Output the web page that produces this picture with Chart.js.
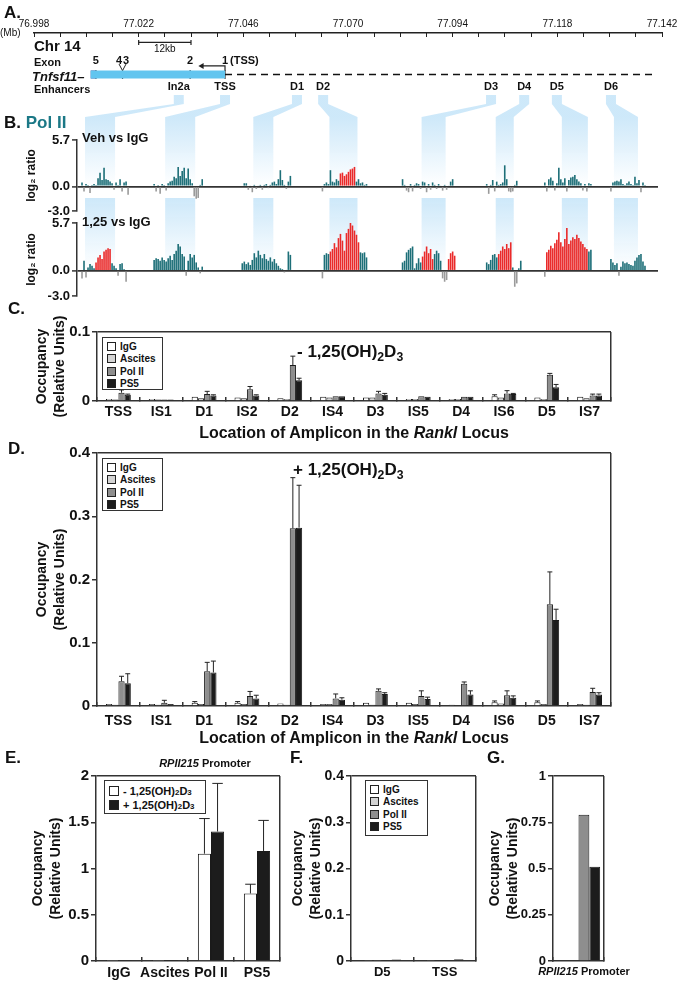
<!DOCTYPE html>
<html>
<head>
<meta charset="utf-8">
<script src="https://cdn.jsdelivr.net/npm/chart.js@4.4.1/dist/chart.umd.min.js"></script>
<style>
body { margin: 0; background: #fff; }
#page { position: relative; width: 685px; height: 986px; overflow: hidden; font-family: 'Liberation Sans', Arial, sans-serif; }
canvas { position: absolute; }
.t { position: absolute; font-weight: bold; color: #111; white-space: nowrap; line-height: 1; }
.box { position: absolute; border: 1.5px solid #333; background: #fff; box-sizing: border-box; font-weight: bold; font-size: 10px; color: #111; padding: 2px 0 0 4px; }
.box div { height: 12.5px; display: flex; align-items: center; white-space: nowrap; }
.sw { display: inline-block; width: 9px; height: 9px; border: 1px solid #222; margin-right: 4px; box-sizing: border-box; }
sub { font-size: 72%; position: relative; top: 0.3em; vertical-align: baseline; line-height: 0; }
</style>
</head>
<body>
<div id="page">
  <canvas id="locus" width="685" height="130" style="left:0;top:0"></canvas>
  <canvas id="vehTrack" width="685" height="130" style="left:0;top:92px"></canvas>
  <canvas id="vitTrack" width="685" height="110" style="left:0;top:196px"></canvas>
  <canvas id="occC" width="685" height="125" style="left:0;top:300px"></canvas>
  <canvas id="occD" width="685" height="290" style="left:0;top:440px"></canvas>
  <canvas id="occE" width="290" height="241" style="left:0;top:745px"></canvas>
  <canvas id="occF" width="200" height="241" style="left:285px;top:745px"></canvas>
  <canvas id="occG" width="200" height="241" style="left:485px;top:745px"></canvas>

  <div class="t" style="left:4px;top:4px;font-size:17px">A.</div>
  <div class="t" style="left:0;top:28px;font-size:10px;font-weight:normal">(Mb)</div>
  <div class="t" style="left:34px;top:38px;font-size:15px">Chr 14</div>
  <div class="t" style="left:34px;top:57px;font-size:11px">Exon</div>
  <div class="t" style="left:32px;top:70px;font-size:13px;font-style:italic">Tnfsf11–</div>
  <div class="t" style="left:34px;top:84px;font-size:11px">Enhancers</div>

  <div class="t" style="left:4px;top:114px;font-size:17px">B. <span style="color:#1b7886">Pol II</span></div>
  <div class="t" style="left:82px;top:131px;font-size:13px">Veh vs IgG</div>
  <div class="t" style="left:82px;top:215px;font-size:13px">1,25 vs IgG</div>

  <div class="t" style="left:8px;top:300px;font-size:17px">C.</div>
  <div class="t" style="left:297px;top:343px;font-size:17px">- 1,25(OH)<sub>2</sub>D<sub>3</sub></div>
  <div class="box" style="left:102px;top:337px;width:61px;height:53px">
    <div><span class="sw" style="background:#fff"></span>IgG</div>
    <div><span class="sw" style="background:#d4d4d4"></span>Ascites</div>
    <div><span class="sw" style="background:#8e8e8e"></span>Pol II</div>
    <div><span class="sw" style="background:#1c1c1c"></span>PS5</div>
  </div>
  <div class="t" style="left:97px;width:514px;text-align:center;top:425px;font-size:16px">Location of Amplicon in the <i>Rankl</i> Locus</div>

  <div class="t" style="left:8px;top:440px;font-size:17px">D.</div>
  <div class="t" style="left:293px;top:461px;font-size:17px">+ 1,25(OH)<sub>2</sub>D<sub>3</sub></div>
  <div class="box" style="left:102px;top:458px;width:61px;height:53px">
    <div><span class="sw" style="background:#fff"></span>IgG</div>
    <div><span class="sw" style="background:#d4d4d4"></span>Ascites</div>
    <div><span class="sw" style="background:#8e8e8e"></span>Pol II</div>
    <div><span class="sw" style="background:#1c1c1c"></span>PS5</div>
  </div>
  <div class="t" style="left:97px;width:514px;text-align:center;top:730px;font-size:16px">Location of Amplicon in the <i>Rankl</i> Locus</div>

  <div class="t" style="left:5px;top:749px;font-size:17px">E.</div>
  <div class="t" style="left:290px;top:749px;font-size:17px">F.</div>
  <div class="t" style="left:487px;top:749px;font-size:17px">G.</div>
  <div class="t" style="left:120px;width:170px;text-align:center;top:758px;font-size:11px"><i>RPII215</i> Promoter</div>
  <div class="box" style="left:104px;top:780px;width:102px;height:34px;font-size:11px;padding-top:3px">
    <div style="height:14px"><span class="sw" style="background:#fff;width:10px;height:10px"></span>- 1,25(OH)<sub>2</sub>D<sub>3</sub></div>
    <div style="height:14px"><span class="sw" style="background:#1c1c1c;width:10px;height:10px"></span>+ 1,25(OH)<sub>2</sub>D<sub>3</sub></div>
  </div>
  <div class="box" style="left:365px;top:780px;width:63px;height:56px">
    <div><span class="sw" style="background:#fff"></span>IgG</div>
    <div><span class="sw" style="background:#d4d4d4"></span>Ascites</div>
    <div><span class="sw" style="background:#8e8e8e"></span>Pol II</div>
    <div><span class="sw" style="background:#1c1c1c"></span>PS5</div>
  </div>
  <div class="t" style="left:534px;width:100px;text-align:center;top:966px;font-size:11px"><i>RPII215</i> Promoter</div>
</div>

<script>
// ---------- panel A: locus map ----------
const mbLabels = ['76.998', '77.022', '77.046', '77.070', '77.094', '77.118', '77.142'];
const mbMin = 76.998, mbMax = 77.142, mbStep = 0.006;
const exonNames = ['5', '4', '3', '2', '1'];
const exonMb = [77.0122, 77.0175, 77.0191, 77.0338, 77.0418];
const geneSpan = [77.0110, 77.0418];
const locusEnd = 77.1399;
const arrowTipMb = 77.0365;
const scaleBarMb = [77.022, 77.034];
const enhancerNames = ['In2a', 'TSS', 'D1', 'D2', 'D3', 'D4', 'D5', 'D6'];
const enhancerMb = [77.0312, 77.0418, 77.0583, 77.0643, 77.1028, 77.1104, 77.1179, 77.1303];

// ---------- panel B: Pol II ChIP-chip tracks (probe index, log2 ratio) ----------
const nProbes = 290;
const trackTicks = [-3, 0, 5.7];
const bandFrom = [4, 44, 88, 126, 172, 209, 242, 268];
const bandTo = [18, 58, 97, 139, 183, 217, 254, 279];

const vehStarts = [2, 38, 83, 122, 162, 204, 233, 266];
const vehValues = [
  [0.5, -0.6, 0.3, 0.2, -0.8, 0.2, 0.3, 0.2, 1.0, 1.7, 0.8, 2.3, 0.9, 0.8, 0.6, 0.4, -0.4, 0.5, 0.2, 0.9, -0.6, 0.5, 0.6, -1.0],
  [0.3, -0.6, 0.2, -0.9, 0.3, 0.2, -0.5, 0.4, 0.6, 0.7, 1.2, 1.0, 2.4, 1.3, 1.9, 2.3, 1.0, 2.2, 0.9, 0.4, -1.2, -1.5, -1.4, 0.2, 0.9],
  [0.4, 0.4, -0.4, 0.1, -0.7, 0.2, -0.3, 0.1, 0.2, -0.4, 0.2, 0.3, -0.2, 0.2, 0.5, 0.6, 0.3, 0.9, 2.0, 0.8, 0.2, -0.3, 0.6, 1.3],
  [-0.6, 0.3, 0.5, 0.3, 2.0, 0.6, 0.5, 0.9, 0.7, 1.6, 1.7, 1.3, 1.5, 1.8, 2.1, 2.2, 2.4, 0.6, 0.9, 0.4, 0.5, 0.2, 0.3],
  [0.9, 0.2, -0.5, -0.7, 0.3, -0.6, 0.2, 0.4, 0.3, -0.3, 0.6, 0.5, -0.7, 0.3, -0.4, 0.5, 0.2, -0.3, 0.3, 0.1, -0.5, 0.2, -0.4, 0.1, 0.6, 0.9],
  [0.3, -0.9, 0.2, 0.8, -0.6, 0.6, 0.2, 0.3, 0.5, 2.6, 0.9, -0.6, -0.7, -0.6, 0.2, 0.7],
  [0.5, -0.6, 0.9, 1.1, 0.7, -0.5, 0.4, 2.3, 0.9, 0.5, 1.0, -0.6, 0.8, 1.1, 1.2, 1.4, 0.9, 0.6, 0.4, -0.5, 0.3, -0.6, 0.4, 0.3],
  [-0.6, 0.5, 0.6, 0.7, 0.6, 0.9, 0.3, 0.2, 0.4, 0.6, 0.3, 0.2, 1.2, 0.4, 0.8, -0.7, 0.5, 0.2]
];
const vehRed = [[131, 138]];

const vitStarts = [2, 38, 82, 122, 162, 204, 233, 266];
const vitValues = [
  [-0.9, 1.2, -0.8, 0.4, 0.8, 0.6, 0.3, 1.0, 1.6, 1.9, 1.4, 2.3, 2.5, 2.7, 2.6, 0.9, 0.6, 0.3, -0.6, 0.8, 0.9, 0.2, -1.3],
  [1.3, 1.5, 1.4, 1.2, 1.6, 1.3, 1.1, 1.5, 1.8, 1.3, 2.0, 2.4, 3.2, 2.9, 2.0, 1.7, -0.6, 1.2, 2.0, 1.6, 1.9, 1.0, 0.4, -0.3, 0.5],
  [0.9, 1.1, 0.8, 1.0, 0.7, 1.3, 2.1, 1.6, 2.4, 1.9, 1.5, 2.0, 1.4, 1.2, 1.6, 1.1, 1.4, 0.9, 0.6, 0.3, 0.2, -0.2, 0.1, 2.3, 1.9],
  [-0.9, 1.9, 2.1, 2.0, 2.3, 2.6, 3.3, 2.8, 3.9, 4.4, 3.6, 2.4, 4.5, 5.0, 5.7, 5.4, 4.8, 4.3, 3.4, 2.2, 2.1, 2.2, 1.6],
  [1.0, 1.2, 2.2, 2.5, 2.7, 2.9, 0.3, 0.9, 1.5, 1.0, 1.7, 2.3, 2.9, 2.1, 2.6, 1.4, 2.0, 2.4, 2.1, 1.2, -0.9, -1.3, -1.1, 1.4, 2.1, 2.3, 1.8],
  [1.0, 0.8, 1.3, 1.9, 2.0, 1.6, 2.0, 2.4, 2.9, 2.6, 3.2, 2.7, 3.4, 0.4, -1.9, -1.5, 0.3, 1.2],
  [-0.7, 2.2, 2.5, 3.0, 2.7, 3.3, 3.7, 4.6, 3.4, 2.9, 3.8, 5.1, 3.2, 3.6, 4.0, 3.8, 4.3, 3.9, 3.5, 3.2, 2.8, 2.6, 2.3, 2.5],
  [1.4, 1.0, 0.7, 0.9, -0.6, 0.5, 1.1, 0.9, 1.0, 0.8, 0.7, 0.6, 1.2, 1.6, 1.9, 2.0, 1.1, 0.6]
];
const vitRed = [[9, 16], [126, 140], [172, 177], [185, 188], [210, 216], [234, 254]];

// ---------- panels C/D: qPCR occupancy across the Rankl locus ----------
const loci = ['TSS', 'IS1', 'D1', 'IS2', 'D2', 'IS4', 'D3', 'IS5', 'D4', 'IS6', 'D5', 'IS7'];
const seriesNames = ['IgG', 'Ascites', 'Pol II', 'PS5'];
const seriesColors = ['#ffffff', '#d4d4d4', '#8e8e8e', '#1c1c1c'];

const vehIgG = [0.003, 0.003, 0.006, 0.005, 0.004, 0.006, 0.005, 0.003, 0.003, 0.007, 0.005, 0.006];
const vehAsc = [0.002, 0.002, 0.004, 0.004, 0.003, 0.005, 0.005, 0.003, 0.003, 0.005, 0.003, 0.004];
const vehPol = [0.012, 0.002, 0.010, 0.017, 0.052, 0.007, 0.011, 0.007, 0.006, 0.011, 0.038, 0.008];
const vehPs5 = [0.009, 0.002, 0.008, 0.008, 0.030, 0.007, 0.009, 0.006, 0.006, 0.010, 0.020, 0.008];
const vehIgGErr = [0, 0, 0, 0, 0, 0, 0, 0, 0, 0.002, 0, 0];
const vehAscErr = [0, 0, 0, 0, 0, 0, 0, 0, 0, 0, 0, 0];
const vehPolErr = [0.004, 0, 0.004, 0.004, 0.013, 0, 0.003, 0, 0, 0.004, 0.002, 0.002];
const vehPs5Err = [0.001, 0, 0.001, 0.001, 0.003, 0, 0.002, 0, 0, 0.001, 0.004, 0.002];

const vitIgG = [0.003, 0.003, 0.005, 0.005, 0.004, 0.003, 0.005, 0.005, 0.002, 0.006, 0.006, 0.003];
const vitAsc = [0.002, 0.002, 0.003, 0.003, 0.002, 0.003, 0.002, 0.003, 0.001, 0.004, 0.003, 0.002];
const vitPol = [0.039, 0.005, 0.055, 0.016, 0.281, 0.012, 0.024, 0.016, 0.035, 0.017, 0.161, 0.022];
const vitPs5 = [0.036, 0.003, 0.053, 0.012, 0.282, 0.010, 0.019, 0.011, 0.018, 0.013, 0.136, 0.018];
const vitIgGErr = [0, 0, 0.002, 0.002, 0, 0, 0, 0, 0, 0.002, 0.002, 0];
const vitAscErr = [0, 0, 0, 0, 0, 0, 0, 0, 0, 0, 0, 0];
const vitPolErr = [0.008, 0.004, 0.014, 0.007, 0.080, 0.007, 0.003, 0.008, 0.003, 0.007, 0.051, 0.006];
const vitPs5Err = [0.015, 0, 0.018, 0.005, 0.067, 0.003, 0.002, 0.003, 0.006, 0.003, 0.017, 0.003];

// ---------- panel E: RPII215 promoter ----------
const promoterGroups = ['IgG', 'Ascites', 'Pol II', 'PS5'];
const promMinus = [0.004, 0.002, 1.16, 0.73];
const promMinusErr = [0, 0, 0.38, 0.10];
const promPlus = [0.005, 0.003, 1.40, 1.19];
const promPlusErr = [0, 0, 0.52, 0.33];

// ---------- panel F / G ----------
const fLoci = ['D5', 'TSS'];
const fIgG = [0.001, 0.001];
const fAsc = [0.001, 0.002];
const fPol = [0.002, 0.002];
const fPs5 = [0.003, 0.004];
const gLoci = ['RPII215 Promoter'];
const gIgG = [0];
const gAsc = [0];
const gPol = [0.79];
const gPs5 = [0.51];

const FONT = "'Liberation Sans', Arial, sans-serif";
Chart.defaults.font.family = FONT;
Chart.defaults.color = '#111';

// row offsets (px below the Mb axis) for the schematic
const rowScale = 10, rowExon = 30, rowV = 33, rowArrow = 35, rowGene = 44, rowEnh = 57;

const locusText = {
  id: 'locusText',
  afterDatasetsDraw(chart) {
    const { ctx, scales: { x, y } } = chart;
    ctx.save();
    ctx.fillStyle = '#111';
    ctx.textAlign = 'center';
    ctx.textBaseline = 'middle';
    ctx.font = 'bold 11px ' + FONT;
    exonNames.forEach((n, i) => ctx.fillText(n, x.getPixelForValue(exonMb[i]), y.getPixelForValue(rowExon)));
    ctx.textAlign = 'left';
    ctx.fillText('(TSS)', x.getPixelForValue(exonMb[4]) + 5, y.getPixelForValue(rowExon));
    ctx.textAlign = 'center';
    enhancerNames.forEach((n, i) => ctx.fillText(n, x.getPixelForValue(enhancerMb[i]), y.getPixelForValue(rowEnh)));
    ctx.font = '10px ' + FONT;
    ctx.fillText('12kb', x.getPixelForValue((scaleBarMb[0] + scaleBarMb[1]) / 2), y.getPixelForValue(rowScale + 7));
    ctx.restore();
  }
};

const mbTicks = Array.from({ length: 25 }, (_, i) => +(mbMin + i * mbStep).toFixed(3));
const line = (pts, extra) => Object.assign({ data: pts, showLine: true, pointRadius: 0, borderColor: '#222', borderWidth: 1.2 }, extra);

const chartA = new Chart(document.getElementById('locus'), {
  type: 'scatter',
  data: {
    datasets: [
      line([{ x: geneSpan[1], y: rowGene }, { x: locusEnd, y: rowGene }], { borderDash: [7, 5], borderWidth: 1.5, borderColor: '#111' }),
      line([{ x: geneSpan[0], y: rowGene }, { x: geneSpan[1], y: rowGene }], { borderColor: '#62c5ef', borderWidth: 8, borderCapStyle: 'butt' }),
      line([{ x: geneSpan[0], y: rowGene }, { x: exonMb[0], y: rowGene }], { borderColor: '#4b4f9c', borderWidth: 8, borderCapStyle: 'butt' }),
      { data: [exonMb[0], (exonMb[1] + exonMb[2]) / 2, exonMb[3], exonMb[4]].map(v => ({ x: v, y: rowGene })),
        pointStyle: 'line', rotation: 90, pointRadius: 4.5, borderColor: '#333', borderWidth: 1.2 },
      line([{ x: exonMb[1], y: rowV }, { x: (exonMb[1] + exonMb[2]) / 2, y: rowGene - 4 }, { x: exonMb[2], y: rowV }], { borderWidth: 1 }),
      line([{ x: exonMb[4], y: rowGene - 4 }, { x: exonMb[4], y: rowArrow }, { x: arrowTipMb, y: rowArrow }], { borderWidth: 1.2 }),
      { data: [{ x: arrowTipMb, y: rowArrow }], pointStyle: 'triangle', rotation: -90, pointRadius: 3.5, backgroundColor: '#222', borderColor: '#222', borderWidth: 0 },
      line([{ x: scaleBarMb[0], y: rowScale }, { x: scaleBarMb[1], y: rowScale }], { pointStyle: 'line', rotation: 90, pointRadius: 2.5, borderWidth: 1.2 })
    ]
  },
  options: {
    responsive: false, animation: false, events: [],
    layout: { padding: { left: 34, right: 23, top: 0, bottom: 0 } },
    scales: {
      x: {
        type: 'linear', position: 'top', min: mbMin, max: mbMax,
        afterBuildTicks: s => { s.ticks = mbTicks.map(v => ({ value: v })); },
        ticks: { autoSkip: false, maxRotation: 0, padding: 7, font: { size: 10 }, color: '#111',
                 callback: (v, i) => (i % 4 === 0 ? mbLabels[i / 4] : '') },
        grid: { drawOnChartArea: false, tickLength: -4, color: '#222', lineWidth: 1 },
        border: { color: '#222', width: 1.5 },
        afterFit: s => { s.height = 33; }
      },
      y: { type: 'linear', display: false, min: 0, max: 97, reverse: true }
    },
    plugins: { legend: { display: false }, tooltip: { enabled: false } }
  },
  plugins: [locusText]
});

// light-blue highlight bands linking the enhancers to the tracks
const funnels = {
  id: 'funnels',
  beforeDatasetsDraw(chart, args, opts) {
    const { ctx, scales } = chart;
    const zero = scales.y.getPixelForValue(0);
    ctx.save();
    for (let i = 0; i < bandFrom.length; i++) {
      const x0 = scales.x.getPixelForValue(bandFrom[i]) - 1;
      const x1 = scales.x.getPixelForValue(bandTo[i]) + 1;
      const g = ctx.createLinearGradient(0, opts.bandTop, 0, zero);
      g.addColorStop(0, 'rgba(165, 214, 245, 0.55)');
      g.addColorStop(1, 'rgba(165, 214, 245, 0)');
      ctx.fillStyle = g;
      ctx.beginPath();
      if (opts.fromLocus) {
        const ex = chartA.scales.x.getPixelForValue(enhancerMb[i]);
        ctx.moveTo(ex - 5, opts.stemTop);
        ctx.lineTo(ex + 5, opts.stemTop);
        ctx.lineTo(ex + 5, opts.stemBend);
        ctx.lineTo(x1, opts.bandTop);
        ctx.lineTo(x1, zero);
        ctx.lineTo(x0, zero);
        ctx.lineTo(x0, opts.bandTop);
        ctx.lineTo(ex - 5, opts.stemBend);
        ctx.closePath();
      } else {
        ctx.rect(x0, opts.bandTop, x1 - x0, zero - opts.bandTop);
      }
      ctx.fill();
    }
    ctx.restore();
  }
};

const probeLabels = Array.from({ length: nProbes }, (_, i) => i);

function trackData(starts, values, redRanges) {
  const teal = new Array(nProbes).fill(null), red = teal.slice(), grey = teal.slice();
  starts.forEach((s, c) => values[c].forEach((v, k) => {
    const i = s + k;
    if (v < 0) grey[i] = v;
    else if (redRanges.some(r => i >= r[0] && i <= r[1])) red[i] = v;
    else teal[i] = v;
  }));
  return { teal, red, grey };
}

function makeTrack(id, starts, values, redRanges, pad, funnelOpts) {
  const d = trackData(starts, values, redRanges);
  return new Chart(document.getElementById(id), {
    type: 'bar',
    data: {
      labels: probeLabels,
      datasets: [
        { data: d.teal, backgroundColor: '#1d6f78' },
        { data: d.red, backgroundColor: '#ea2a2a' },
        { data: d.grey, backgroundColor: '#9a9a9a' }
      ]
    },
    options: {
      responsive: false, animation: false, events: [],
      datasets: { bar: { grouped: false, barPercentage: 1, categoryPercentage: 0.8, borderWidth: 0 } },
      layout: { padding: { left: 0, right: 27, top: pad[0], bottom: pad[1] } },
      scales: {
        x: { display: false },
        y: {
          min: -3, max: 5.7,
          afterBuildTicks: s => { s.ticks = trackTicks.map(v => ({ value: v })); },
          ticks: { callback: v => v.toFixed(1), font: { size: 13, weight: 'bold' }, color: '#111', padding: 2 },
          border: { color: '#333', width: 1.5 },
          grid: { color: c => (c.tick && c.tick.value === 0 ? '#333' : 'rgba(0,0,0,0)'), lineWidth: 1.8,
                  tickColor: '#333', tickWidth: 1.5, tickLength: 5 },
          title: { display: true, text: 'log₂ ratio', font: { size: 12, weight: 'bold' }, color: '#111', padding: { top: 24, bottom: 0 } },
          afterFit: s => { s.width = 77; }
        }
      },
      plugins: { legend: { display: false }, tooltip: { enabled: false }, funnels: funnelOpts }
    },
    plugins: [funnels]
  });
}

makeTrack('vehTrack', vehStarts, vehValues, vehRed, [48, 11], { fromLocus: true, stemTop: 3, stemBend: 12, bandTop: 25 });
makeTrack('vitTrack', vitStarts, vitValues, vitRed, [27, 10], { fromLocus: false, bandTop: 2 });

// upward error bars with caps
const errorBars = {
  id: 'errorBars',
  afterDatasetsDraw(chart) {
    const { ctx } = chart;
    const y = chart.scales.y;
    chart.data.datasets.forEach((ds, i) => {
      if (!ds.errors) return;
      chart.getDatasetMeta(i).data.forEach((bar, j) => {
        const e = ds.errors[j];
        if (!e) return;
        const top = y.getPixelForValue(ds.data[j] + e);
        const w = Math.max(bar.width * 0.8, 4);
        ctx.save();
        ctx.strokeStyle = '#222';
        ctx.lineWidth = 1;
        ctx.beginPath();
        ctx.moveTo(bar.x, bar.y);
        ctx.lineTo(bar.x, top);
        ctx.moveTo(bar.x - w / 2, top);
        ctx.lineTo(bar.x + w / 2, top);
        ctx.stroke();
        ctx.restore();
      });
    });
  }
};

function occupancyChart(id, cfg) {
  return new Chart(document.getElementById(id), {
    type: 'bar',
    data: {
      labels: cfg.labels,
      datasets: cfg.series.map(s => ({
        label: s.name, data: s.data, errors: s.err,
        backgroundColor: s.color, borderColor: '#1a1a1a', borderWidth: 1
      }))
    },
    options: {
      responsive: false, animation: false, events: [],
      datasets: { bar: { barPercentage: 1, categoryPercentage: cfg.catPct } },
      layout: { padding: cfg.padding },
      scales: {
        x: {
          ticks: { display: cfg.showX !== false, autoSkip: false, font: { size: cfg.xFont, weight: 'bold' }, color: '#111', padding: cfg.xPad, maxRotation: 0 },
          border: { color: '#333', width: 1.5 },
          grid: { offset: true, color: c => (c.type === 'scale' ? '#333' : 'rgba(0,0,0,0)'), lineWidth: 1.5,
                  tickColor: '#333', tickWidth: 1.5, tickLength: -4 },
          afterFit: s => { s.height = cfg.xHeight; }
        },
        y: {
          min: 0, max: cfg.max,
          afterBuildTicks: s => { s.ticks = cfg.ticks.map(v => ({ value: v })); },
          ticks: { callback: v => String(v), font: { size: cfg.yFont, weight: 'bold' }, color: '#111', padding: 2 },
          border: { color: '#333', width: 1.5 },
          grid: { color: c => (c.tick && c.tick.value === cfg.max ? '#333' : 'rgba(0,0,0,0)'), lineWidth: 1.5,
                  tickColor: '#333', tickWidth: 1.5, tickLength: 5 },
          title: { display: true, text: ['Occupancy', '(Relative Units)'], color: '#111',
                   font: { size: 14, weight: 'bold', lineHeight: 1.3 }, padding: { top: cfg.titlePad, bottom: 0 } },
          afterFit: s => { s.width = cfg.yWidth; }
        }
      },
      plugins: { legend: { display: false }, tooltip: { enabled: false } }
    },
    plugins: [errorBars]
  });
}

const fourSeries = (data, errs) => seriesNames.map((n, i) => ({ name: n, data: data[i], err: errs ? errs[i] : null, color: seriesColors[i] }));

occupancyChart('occC', {
  labels: loci, max: 0.1, ticks: [0, 0.1], catPct: 0.58,
  series: fourSeries([vehIgG, vehAsc, vehPol, vehPs5], [vehIgGErr, vehAscErr, vehPolErr, vehPs5Err]),
  padding: { left: 0, right: 74, top: 32, bottom: 0 }, yWidth: 97, xHeight: 24, xPad: 7,
  xFont: 14, yFont: 15, titlePad: 33
});

occupancyChart('occD', {
  labels: loci, max: 0.4, ticks: [0, 0.1, 0.2, 0.3, 0.4], catPct: 0.58,
  series: fourSeries([vitIgG, vitAsc, vitPol, vitPs5], [vitIgGErr, vitAscErr, vitPolErr, vitPs5Err]),
  padding: { left: 0, right: 74, top: 13, bottom: 0 }, yWidth: 97, xHeight: 24, xPad: 11,
  xFont: 14, yFont: 15, titlePad: 33
});

occupancyChart('occE', {
  labels: promoterGroups, max: 2, ticks: [0, 0.5, 1, 1.5, 2], catPct: 0.57,
  series: [
    { name: '- 1,25(OH)2D3', data: promMinus, err: promMinusErr, color: '#ffffff' },
    { name: '+ 1,25(OH)2D3', data: promPlus, err: promPlusErr, color: '#1c1c1c' }
  ],
  padding: { left: 0, right: 10, top: 31, bottom: 0 }, yWidth: 96, xHeight: 25, xPad: 8,
  xFont: 14, yFont: 15, titlePad: 29
});

occupancyChart('occF', {
  labels: fLoci, max: 0.4, ticks: [0, 0.1, 0.2, 0.3, 0.4], catPct: 0.6,
  series: fourSeries([fIgG, fAsc, fPol, fPs5]),
  padding: { left: 0, right: 9, top: 31, bottom: 0 }, yWidth: 66, xHeight: 25, xPad: 8,
  xFont: 13, yFont: 14, titlePad: 4
});

occupancyChart('occG', {
  labels: gLoci, max: 1, ticks: [0, 0.25, 0.5, 0.75, 1], catPct: 0.85, showX: false,
  series: fourSeries([gIgG, gAsc, gPol, gPs5]),
  padding: { left: 0, right: 81, top: 31, bottom: 0 }, yWidth: 68, xHeight: 25, xPad: 8,
  xFont: 12, yFont: 13, titlePad: 1
});
</script>
</body>
</html>
